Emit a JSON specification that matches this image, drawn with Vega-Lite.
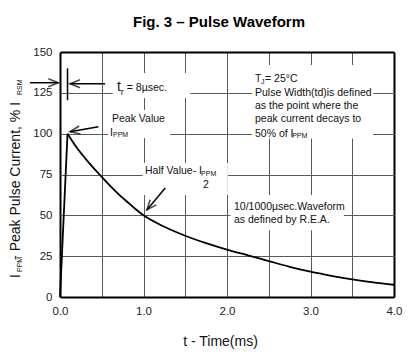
{
  "$schema": "https://vega.github.io/schema/vega-lite/v6.json",
  "autosize": "none",
  "width": 334,
  "height": 245,
  "padding": {"left": 60, "top": 52, "right": 14, "bottom": 57},
  "background": "white",
  "config": {
    "font": "Liberation Sans",
    "view": {"stroke": null},
    "text": {"font": "Liberation Sans", "color": "#111"}
  },
  "title": {
    "text": "Fig. 3 – Pulse Waveform",
    "fontSize": 15,
    "fontWeight": "bold",
    "font": "Liberation Sans",
    "color": "black",
    "anchor": "middle",
    "dx": -8,
    "offset": 16
  },
  "datasets": {
    "curve": [
      {"t": 0, "v": 0, "phase": "rise"},
      {"t": 0.09, "v": 100, "phase": "rise"},
      {"t": 0.09, "v": 100, "phase": "decay"},
      {"t": 0.2, "v": 91.5, "phase": "decay"},
      {"t": 0.3, "v": 85, "phase": "decay"},
      {"t": 0.4, "v": 79, "phase": "decay"},
      {"t": 0.5, "v": 73.5, "phase": "decay"},
      {"t": 0.6, "v": 68, "phase": "decay"},
      {"t": 0.7, "v": 63, "phase": "decay"},
      {"t": 0.8, "v": 58.5, "phase": "decay"},
      {"t": 0.9, "v": 54, "phase": "decay"},
      {"t": 1.0, "v": 50, "phase": "decay"},
      {"t": 1.25, "v": 43, "phase": "decay"},
      {"t": 1.5, "v": 37.5, "phase": "decay"},
      {"t": 1.75, "v": 33, "phase": "decay"},
      {"t": 2.0, "v": 29, "phase": "decay"},
      {"t": 2.25, "v": 25.5, "phase": "decay"},
      {"t": 2.5, "v": 22, "phase": "decay"},
      {"t": 2.75, "v": 18.5, "phase": "decay"},
      {"t": 3.0, "v": 15.5, "phase": "decay"},
      {"t": 3.25, "v": 13, "phase": "decay"},
      {"t": 3.5, "v": 10.8, "phase": "decay"},
      {"t": 3.75, "v": 9, "phase": "decay"},
      {"t": 4.0, "v": 7.5, "phase": "decay"}
    ],
    "boxes": [
      {"x": 0.63, "x2": 1.56, "y": 121.9, "y2": 137.2},
      {"x": 0.575, "x2": 1.32, "y": 97.4, "y2": 114.5},
      {"x": 0.99, "x2": 2.01, "y": 62.5, "y2": 82},
      {"x": 2.04, "x2": 3.40, "y": 40.8, "y2": 62.5},
      {"x": 2.3, "x2": 3.75, "y": 97, "y2": 142}
    ],
    "arrows": [
      {"x": -0.36, "y": 131.2, "x2": -0.02, "y2": 131.2},
      {"x": 0.09, "y": 120.5, "x2": 0.09, "y2": 140},
      {"x": 0.54, "y": 130.6, "x2": 0.12, "y2": 130.6},
      {"x": 0.46, "y": 104.3, "x2": 0.12, "y2": 101.2},
      {"x": 1.26, "y": 66.7, "x2": 1.04, "y2": 53.3}
    ],
    "heads": [
      {"id": "tr_in", "x": -0.02, "y": 131.2},
      {"id": "tr_out", "x": 0.12, "y": 130.6},
      {"id": "peak", "x": 0.12, "y": 101.2},
      {"id": "half", "x": 1.04, "y": 53.3}
    ],
    "labels": [
      {"role": "big", "x": 0.683, "y": 128.6, "text": "t"},
      {"role": "sub9", "x": 0.727, "y": 125.8, "text": "r"},
      {"role": "main", "x": 0.80, "y": 128.0, "text": "= 8µsec."},
      {"role": "main", "x": 0.623, "y": 109.0, "text": "Peak Value"},
      {"role": "main", "x": 0.6, "y": 100.7, "text": "I"},
      {"role": "sub", "x": 0.635, "y": 99.2, "text": "PPM"},
      {"role": "main", "x": 1.018, "y": 76.9, "text": "Half Value- I"},
      {"role": "sub", "x": 1.69, "y": 75.3, "text": "PPM"},
      {"role": "main", "x": 1.713, "y": 68.6, "text": "2"},
      {"role": "main", "x": 2.084, "y": 55.4, "text": "10/1000µsec.Waveform"},
      {"role": "main", "x": 2.084, "y": 47.2, "text": "as defined by R.E.A."},
      {"role": "main", "x": 2.335, "y": 133.5, "text": "T"},
      {"role": "sub", "x": 2.407, "y": 131.4, "text": "J"},
      {"role": "main", "x": 2.455, "y": 133.5, "text": "= 25°C"},
      {"role": "main", "x": 2.335, "y": 124.9, "text": "Pulse Width(td)is defined"},
      {"role": "main", "x": 2.335, "y": 116.7, "text": "as the point where the"},
      {"role": "main", "x": 2.335, "y": 108.7, "text": "peak current decays to"},
      {"role": "main", "x": 2.335, "y": 99.8, "text": "50% of I"},
      {"role": "sub", "x": 2.78, "y": 98.6, "text": "PPM"}
    ],
    "ytitle": [
      {"role": "main", "x": -0.479, "y": 11.6, "text": "I"},
      {"role": "sub", "x": -0.461, "y": 15.3, "text": "PPM"},
      {"role": "main", "x": -0.479, "y": 22.7, "text": " - Peak Pulse Current, % I"},
      {"role": "sub", "x": -0.461, "y": 123.7, "text": "RSM"}
    ]
  },
  "layer": [
    {
      "data": {"name": "boxes"},
      "mark": {"type": "rect", "fill": "white", "stroke": null},
      "encoding": {
        "x": {
          "field": "x", "type": "quantitative",
          "scale": {"domain": [0, 4], "nice": false, "zero": false},
          "axis": {
            "values": [0, 0.5, 1, 1.5, 2, 2.5, 3, 3.5, 4],
            "labelExpr": "datum.value % 1 === 0 ? format(datum.value, '.1f') : ''",
            "grid": true,
            "gridColor": {"condition": {"test": "datum.value === 0 || datum.value === 4", "value": "black"}, "value": "#5a5a5a"},
            "gridWidth": {"condition": {"test": "datum.value === 0 || datum.value === 4", "value": 2}, "value": 1},
            "ticks": false,
            "domain": false,
            "labelFont": "Liberation Sans",
            "labelFontSize": 11.5,
            "labelColor": "#222",
            "labelPadding": 8,
            "labelFlush": false,
            "labelOverlap": false,
            "labelBound": false,
            "title": "t - Time(ms)",
            "titleFont": "Liberation Sans",
            "titleFontSize": 14,
            "titleFontWeight": "normal",
            "titleColor": "#111",
            "titleAnchor": null,
            "titleAlign": "center",
            "titleBaseline": "alphabetic",
            "titleX": 160,
            "titleY": 48
          }
        },
        "x2": {"field": "x2"},
        "y": {
          "field": "y", "type": "quantitative",
          "scale": {"domain": [0, 150], "nice": false, "zero": false},
          "axis": {
            "values": [0, 25, 50, 75, 100, 125, 150],
            "grid": true,
            "gridColor": {"condition": {"test": "datum.value === 0 || datum.value === 150", "value": "black"}, "value": "#5a5a5a"},
            "gridWidth": {"condition": {"test": "datum.value === 0 || datum.value === 150", "value": 2}, "value": 1},
            "ticks": false,
            "domain": false,
            "labelFont": "Liberation Sans",
            "labelFontSize": 11.5,
            "labelColor": "#222",
            "labelPadding": 8,
            "labelFlush": false,
            "labelOverlap": false,
            "labelBound": false,
            "title": null
          }
        },
        "y2": {"field": "y2"}
      }
    },
    {
      "data": {"name": "curve"},
      "transform": [{"filter": "datum.phase === 'rise'"}],
      "mark": {"type": "line", "color": "black", "strokeWidth": 1.8, "interpolate": "linear"},
      "encoding": {
        "x": {"field": "t", "type": "quantitative"},
        "y": {"field": "v", "type": "quantitative"}
      }
    },
    {
      "data": {"name": "curve"},
      "transform": [{"filter": "datum.phase === 'decay'"}],
      "mark": {"type": "line", "color": "black", "strokeWidth": 1.8, "interpolate": "monotone"},
      "encoding": {
        "x": {"field": "t", "type": "quantitative"},
        "y": {"field": "v", "type": "quantitative"}
      }
    },
    {
      "data": {"name": "arrows"},
      "mark": {"type": "rule", "color": "black", "strokeWidth": 1.5},
      "encoding": {
        "x": {"field": "x", "type": "quantitative"},
        "y": {"field": "y", "type": "quantitative"},
        "x2": {"field": "x2"},
        "y2": {"field": "y2"}
      }
    },
    {
      "data": {"name": "heads"},
      "transform": [{"filter": "datum.id === 'tr_in'"}],
      "mark": {"type": "point", "shape": "M-1,-0.4L0,0L-1,0.4", "filled": false, "stroke": "black", "strokeWidth": 1.6, "size": 400, "angle": 0},
      "encoding": {"x": {"field": "x", "type": "quantitative"}, "y": {"field": "y", "type": "quantitative"}}
    },
    {
      "data": {"name": "heads"},
      "transform": [{"filter": "datum.id === 'tr_out'"}],
      "mark": {"type": "point", "shape": "M-1,-0.4L0,0L-1,0.4", "filled": false, "stroke": "black", "strokeWidth": 1.6, "size": 400, "angle": 180},
      "encoding": {"x": {"field": "x", "type": "quantitative"}, "y": {"field": "y", "type": "quantitative"}}
    },
    {
      "data": {"name": "heads"},
      "transform": [{"filter": "datum.id === 'peak'"}],
      "mark": {"type": "point", "shape": "M-1,-0.4L0,0L-1,0.4", "filled": false, "stroke": "black", "strokeWidth": 1.6, "size": 400, "angle": 170},
      "encoding": {"x": {"field": "x", "type": "quantitative"}, "y": {"field": "y", "type": "quantitative"}}
    },
    {
      "data": {"name": "heads"},
      "transform": [{"filter": "datum.id === 'half'"}],
      "mark": {"type": "point", "shape": "M-1,-0.4L0,0L-1,0.4", "filled": false, "stroke": "black", "strokeWidth": 1.6, "size": 400, "angle": 130},
      "encoding": {"x": {"field": "x", "type": "quantitative"}, "y": {"field": "y", "type": "quantitative"}}
    },
    {
      "data": {"name": "labels"},
      "transform": [{"filter": "datum.role === 'main'"}],
      "mark": {"type": "text", "align": "left", "baseline": "middle", "fontSize": 10.5, "font": "Liberation Sans", "color": "#111"},
      "encoding": {"x": {"field": "x", "type": "quantitative"}, "y": {"field": "y", "type": "quantitative"}, "text": {"field": "text"}}
    },
    {
      "data": {"name": "labels"},
      "transform": [{"filter": "datum.role === 'big'"}],
      "mark": {"type": "text", "align": "left", "baseline": "middle", "fontSize": 14, "font": "Liberation Sans", "color": "#111"},
      "encoding": {"x": {"field": "x", "type": "quantitative"}, "y": {"field": "y", "type": "quantitative"}, "text": {"field": "text"}}
    },
    {
      "data": {"name": "labels"},
      "transform": [{"filter": "datum.role === 'sub'"}],
      "mark": {"type": "text", "align": "left", "baseline": "middle", "fontSize": 7, "font": "Liberation Sans", "color": "#111"},
      "encoding": {"x": {"field": "x", "type": "quantitative"}, "y": {"field": "y", "type": "quantitative"}, "text": {"field": "text"}}
    },
    {
      "data": {"name": "labels"},
      "transform": [{"filter": "datum.role === 'sub9'"}],
      "mark": {"type": "text", "align": "left", "baseline": "middle", "fontSize": 9, "font": "Liberation Sans", "color": "#111"},
      "encoding": {"x": {"field": "x", "type": "quantitative"}, "y": {"field": "y", "type": "quantitative"}, "text": {"field": "text"}}
    },
    {
      "data": {"name": "ytitle"},
      "transform": [{"filter": "datum.role === 'main'"}],
      "mark": {"type": "text", "align": "left", "baseline": "alphabetic", "angle": 270, "fontSize": 14, "font": "Liberation Sans", "color": "#111"},
      "encoding": {"x": {"field": "x", "type": "quantitative"}, "y": {"field": "y", "type": "quantitative"}, "text": {"field": "text"}}
    },
    {
      "data": {"name": "ytitle"},
      "transform": [{"filter": "datum.role === 'sub'"}],
      "mark": {"type": "text", "align": "left", "baseline": "alphabetic", "angle": 270, "fontSize": 7, "font": "Liberation Sans", "color": "#111"},
      "encoding": {"x": {"field": "x", "type": "quantitative"}, "y": {"field": "y", "type": "quantitative"}, "text": {"field": "text"}}
    }
  ]
}
